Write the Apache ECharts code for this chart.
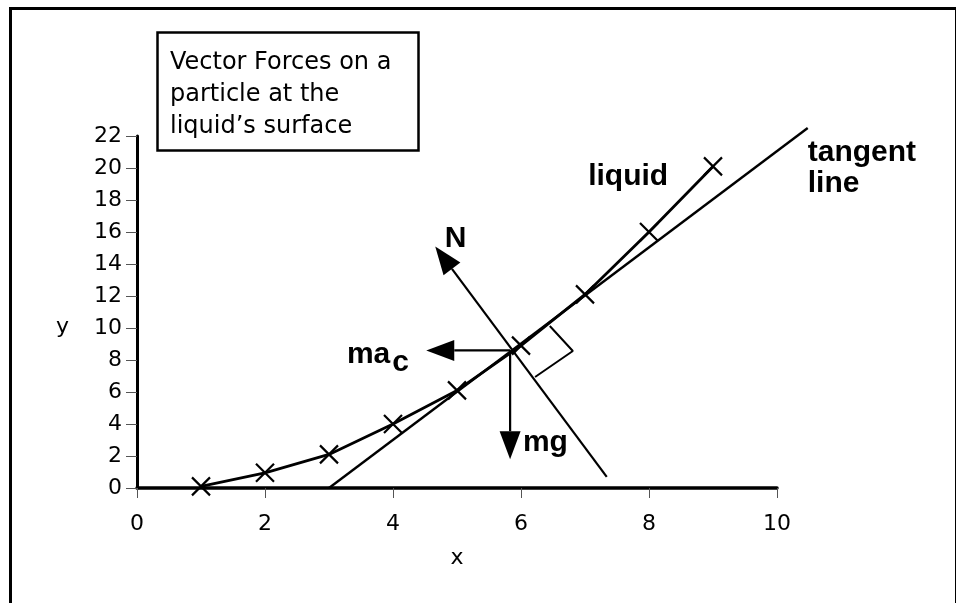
<!DOCTYPE html>
<html>
<head>
<meta charset="utf-8">
<script src="https://cdn.jsdelivr.net/npm/echarts@6/dist/echarts.min.js"></script>
<style>html,body{margin:0;padding:0;background:#fff;}#c{width:956px;height:603px;}</style>
</head>
<body>
<div id="c"></div>
<script>
// ---- data ----
const xTicks = [0, 2, 4, 6, 8, 10];
const yTicks = [0, 2, 4, 6, 8, 10, 12, 14, 16, 18, 20, 22];
const liquidX = [1, 2, 3, 4, 5, 6, 7, 8, 9];
const liquidY = [0.1, 0.95, 2.1, 4, 6.1, 8.9, 12.1, 16, 20.1];
const tangentX = [3, 10.48];
const tangentY = [0, 22.5];
const forcePoint = [5.83, 8.6];
const normalStart = [7.34, 0.7];
const normalTip = [4.66, 15.1];
const macTip = [4.52, 8.6];
const mgTip = [5.83, 1.8];
const rightAngleX = [6.45, 6.81, 6.22];
const rightAngleY = [10.125, 8.56, 6.94];
const labelNames = ['tangent\nline', 'liquid', 'N', 'ma', 'c', 'mg'];
const labelX = [10.48, 7.05, 4.81, 3.28, 3.99, 6.03];
const labelY = [20.0, 19.44, 15.6, 8.31, 7.8, 2.81];
const titleLines = ['Vector Forces on a', 'particle at the', 'liquid\u2019s surface'];

const chart = echarts.init(document.getElementById('c'));
// [x1, y1, x2, y2, hasArrowHead]
const segments = [
  [tangentX[0], tangentY[0], tangentX[1], tangentY[1], 0],
  [normalStart[0], normalStart[1], normalTip[0], normalTip[1], 1],
  [forcePoint[0], forcePoint[1], macTip[0], macTip[1], 1],
  [forcePoint[0], forcePoint[1], mgTip[0], mgTip[1], 1]
];
const xMark = 'path://M0,0L10,10M10,0L0,10';
const bold = {fontFamily: '"Liberation Sans", Arial, sans-serif', fontWeight: 'bold', fontSize: 30, color: '#000', lineHeight: 31};
const sans = '"DejaVu Sans", Verdana, sans-serif';

chart.setOption({
  animation: false,
  backgroundColor: '#fff',
  title: {
    text: titleLines.join('\n'),
    left: 157, top: 32,
    padding: [15, 27, 8, 13],
    borderColor: '#000', borderWidth: 2.5,
    textStyle: {fontFamily: sans, fontWeight: 'normal', fontSize: 24, lineHeight: 32, color: '#000'}
  },
  graphic: [{type: 'rect', left: 8, top: 6, shape: {width: 946, height: 640}, style: {fill: 'none', stroke: '#000', lineWidth: 3}, z: -1}],
  grid: {left: 137, right: 179, top: 136, bottom: 115, containLabel: false},
  xAxis: {
    type: 'value', min: xTicks[0], max: xTicks[xTicks.length - 1], interval: 2,
    name: 'x', nameLocation: 'middle', nameGap: 59,
    nameTextStyle: {fontFamily: sans, fontSize: 22, color: '#000'},
    axisLine: {lineStyle: {color: '#000', width: 3.5}},
    axisTick: {show: true, length: 10, lineStyle: {color: '#555', width: 1}},
    axisLabel: {margin: 25, fontFamily: sans, fontSize: 22, color: '#000'},
    splitLine: {show: false}
  },
  yAxis: {
    type: 'value', min: yTicks[0], max: yTicks[yTicks.length - 1], interval: 2,
    name: '\ny', nameLocation: 'middle', nameGap: 68, nameRotate: 0,
    nameTextStyle: {fontFamily: sans, fontSize: 22, lineHeight: 30, color: '#000'},
    axisLine: {show: true, lineStyle: {color: '#000', width: 3}},
    axisTick: {show: true, length: 11, lineStyle: {color: '#555', width: 1}},
    axisLabel: {margin: 15, fontFamily: sans, fontSize: 22, color: '#000'},
    splitLine: {show: false}
  },
  series: [
    {
      type: 'line', name: 'liquid',
      data: liquidX.map((x, i) => [x, liquidY[i]]),
      symbol: xMark, symbolSize: 18, showAllSymbol: true,
      lineStyle: {color: '#000', width: 2.8},
      itemStyle: {color: 'rgba(0,0,0,0)', borderColor: '#000', borderWidth: 2.2},
      clip: false, z: 3
    },
    {
      type: 'line', name: 'rightAngle',
      data: rightAngleX.map((x, i) => [x, rightAngleY[i]]),
      symbol: 'none', lineStyle: {color: '#000', width: 2}, clip: false, z: 3
    },
    {
      type: 'custom', name: 'segments',
      data: segments,
      encode: {x: [0, 2], y: [1, 3]},
      clip: false,
      renderItem: function (params, api) {
        const p1 = api.coord([api.value(0), api.value(1)]);
        const p2 = api.coord([api.value(2), api.value(3)]);
        const head = api.value(4);
        if (!head) {
          return {type: 'line', shape: {x1: p1[0], y1: p1[1], x2: p2[0], y2: p2[1]}, style: {stroke: '#000', lineWidth: 2.4}};
        }
        const dx = p2[0] - p1[0], dy = p2[1] - p1[1];
        const len = Math.sqrt(dx * dx + dy * dy);
        const ux = dx / len, uy = dy / len;
        const L = 28, W = 10.5;
        const bx = p2[0] - ux * L, by = p2[1] - uy * L;
        const nx = -uy, ny = ux;
        return {
          type: 'group',
          children: [
            {type: 'line', shape: {x1: p1[0], y1: p1[1], x2: bx, y2: by}, style: {stroke: '#000', lineWidth: 2.2}},
            {type: 'polygon', shape: {points: [[p2[0], p2[1]], [bx + nx * W, by + ny * W], [bx - nx * W, by - ny * W]]}, style: {fill: '#000'}}
          ]
        };
      },
      z: 4
    },
    {
      type: 'scatter', name: 'labels',
      data: labelNames.map((n, i) => ({name: n, value: [labelX[i], labelY[i]]})),
      symbolSize: 0, clip: false,
      itemStyle: {opacity: 1},
      label: Object.assign({show: true, position: 'right', distance: 0, formatter: '{b}'}, bold),
      z: 5
    }
  ]
});
</script>
</body>
</html>
